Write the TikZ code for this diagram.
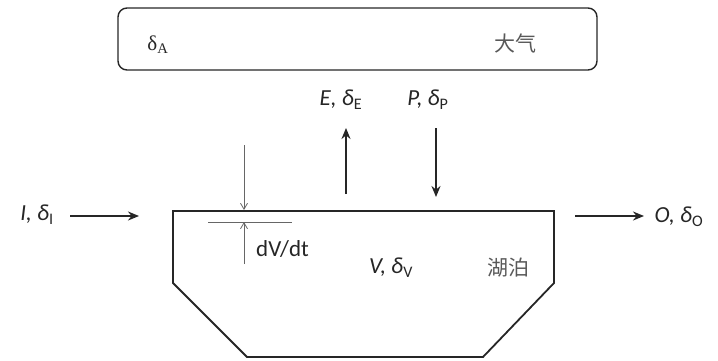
\documentclass[tikz,border=0pt]{standalone}
\usepackage{fontspec}
\setmainfont{Carlito}
\newfontfamily\cjkfont{Noto Sans CJK SC}
\newfontfamily\grserif{Liberation Serif}
\usetikzlibrary{arrows.meta, positioning, calc}

\newcommand{\isolbl}[2]{{\itshape #1, δ}\textsubscript{#2}}

\begin{document}
\begin{tikzpicture}[x=1pt, y=-1pt]
    \tikzstyle{txt} = [text=black!85, font=\fontsize{23}{26}\selectfont, inner sep=1pt]
    \tikzstyle{cjk} = [text=black!65, font=\cjkfont\fontsize{21}{23}\selectfont, inner sep=1pt]
    \tikzstyle{flux} = [line width=1.9pt, black!85, -{Stealth[length=11pt, width=9pt]}]
    \tikzstyle{thin} = [line width=0.8pt, black!60, -{Straight Barb[length=6pt, width=7pt]}]
    \useasboundingbox (0,0) rectangle (718,360);

    % atmosphere
    \node (atm) [draw=black!85, line width=1.4pt, rounded corners=9pt, minimum width=479pt, minimum height=62pt] at (357.5,39) {};
    \node (dA) [text=black!85, font=\grserif\fontsize{21}{24}\selectfont] at (158,45) {δ\textsubscript{A}};
    \node (air) [cjk] at (515,43) {大气};

    % lake basin
    \coordinate (tl) at (173,211);
    \coordinate (tr) at (554,211);
    \draw [line width=1.8pt, black!85] (tl) -- (tr) -- (554,283) -- (483,357) -- (247,357) -- (173,283) -- cycle;
    \node (vol) [txt] at (391,268) {\isolbl{V}{V}};
    \node (lake) [cjk] at (508,268) {湖泊};

    % fluxes
    \node (lblE) [txt] at (341,100) {\isolbl{E}{E}};
    \node (lblP) [txt] at (428,100) {\isolbl{P}{P}};
    \node (lblI) [txt] at (37,215) {\isolbl{I}{I}};
    \node (lblO) [txt] at (679,217) {\isolbl{O}{O}};
    \coordinate (eFoot) at (346,194);
    \coordinate (eTip) at (346,128);
    \coordinate (pTop) at (436,128);
    \coordinate (pTip) at (436,197);
    \coordinate (iFoot) at (70,216);
    \coordinate (iTip) at (139,216);
    \coordinate (oFoot) at (575,216);
    \coordinate (oTip) at (644,216);
    \draw [flux] (eFoot) -- (eTip);
    \draw [flux] (pTop) -- (pTip);
    \draw [flux] (iFoot) -- (iTip);
    \draw [flux] (oFoot) -- (oTip);

    % storage change
    \coordinate (lvl) at (244,222);
    \coordinate (lvlTop) at (244,145);
    \coordinate (lvlBot) at (244,264);
    \draw [thin] (lvlTop) -- (244,210);
    \draw [line width=0.8pt, black!60] (208,222) -- (292,222);
    \draw [thin] (lvlBot) -- (lvl);
    \node (dvdt) [txt, anchor=west] at (255,249) {dV/dt};
\end{tikzpicture}
\end{document}
